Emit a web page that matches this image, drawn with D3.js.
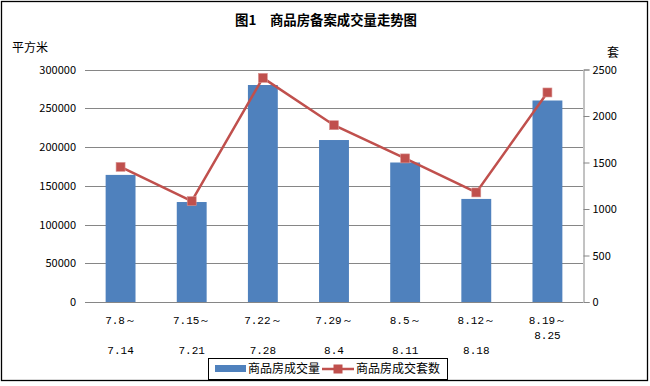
<!DOCTYPE html>
<html><head><meta charset="utf-8">
<script src="https://cdn.jsdelivr.net/npm/d3@7"></script>
<style>body{margin:0;background:#fff}svg{display:block}</style>
</head><body>
<svg id="c" width="650" height="386"></svg>
<script>
const categories = [["7.8～","","7.14"],["7.15～","","7.21"],["7.22～","","7.28"],["7.29～","","8.4"],["8.5～","","8.11"],["8.12～","","8.18"],["8.19～","8.25",""]];
const areaValues = [164000,129000,280000,209000,180000,133000,260000];
const countValues = [1453,1085,2410,1901,1544,1178,2253];
const leftTicks = [0,50000,100000,150000,200000,250000,300000];
const rightTicks = [0,500,1000,1500,2000,2500];
const titleParts = ["图1","商品房备案成交量走势图"];

const svg = d3.select("#c");
const font = "'Noto Sans CJK SC', 'Liberation Sans', sans-serif";
svg.append("rect").attr("x",1.5).attr("y",1.5).attr("width",646).attr("height",379)
  .attr("fill","#fff").attr("stroke","#000").attr("stroke-width",1.3);

const x0 = 85, x1 = 583, yTop = 69.5, yBot = 302;
const x = d3.scaleBand().domain(d3.range(categories.length)).range([x0,x1]).paddingInner(0.58).paddingOuter(0.29);
const yL = d3.scaleLinear().domain([0,300000]).range([yBot,yTop]);
const yR = d3.scaleLinear().domain([0,2500]).range([yBot,yTop]);

// gridlines
svg.append("g").selectAll("line").data(leftTicks).join("line")
  .attr("x1",x0).attr("x2",x1).attr("y1",d=>Math.round(yL(d))+0.5).attr("y2",d=>Math.round(yL(d))+0.5)
  .attr("stroke","#868686").attr("stroke-width",1);
// left labels
svg.append("g").selectAll("text").data(leftTicks).join("text")
  .attr("x",76).attr("y",d=>yL(d)+4).attr("text-anchor","end")
  .attr("font-family",font).attr("font-size",11).attr("fill","#000").text(d=>d);
// right axis
const rAxis = d3.axisRight(yR).tickValues(rightTicks).tickSize(6).tickFormat(d=>d);
const rg = svg.append("g").attr("transform",`translate(${x1+0.5},0)`).call(rAxis);
rg.selectAll("path,line").attr("stroke","#868686");
rg.selectAll("text").attr("font-family",font).attr("font-size",11).attr("fill","#000").attr("x",9);

// bars
svg.append("g").selectAll("rect").data(areaValues).join("rect")
  .attr("x",(d,i)=>x(i)).attr("width",x.bandwidth())
  .attr("y",d=>yL(d)).attr("height",d=>yBot-yL(d)).attr("fill","#4F81BD");
// baseline
svg.append("line").attr("x1",x0).attr("x2",x1).attr("y1",yBot+0.5).attr("y2",yBot+0.5).attr("stroke","#868686");

// line
const cx = i => x(i)+x.bandwidth()/2;
svg.append("path").datum(countValues)
  .attr("d",d3.line().x((d,i)=>cx(i)).y(d=>yR(d)))
  .attr("fill","none").attr("stroke","#C0504D").attr("stroke-width",2.5);
svg.append("g").selectAll("rect").data(countValues).join("rect")
  .attr("x",(d,i)=>cx(i)-4.5).attr("y",d=>yR(d)-4.5).attr("width",9).attr("height",9)
  .attr("fill","#C0504D").attr("stroke","#D99694").attr("stroke-width",0.6);

// category labels
const cg = svg.append("g");
categories.forEach((lines,i)=>{
  lines.forEach((t,j)=>{
    if(!t) return;
    cg.append("text").attr("x",cx(i)).attr("y",324+j*15).attr("text-anchor","middle")
      .attr("font-family","'Liberation Mono', monospace").attr("font-size",11).attr("fill","#000").text(t);
  });
});

// title and axis titles
svg.append("text").attr("x",235).attr("y",25).attr("font-family",font).attr("font-weight","bold").attr("font-size",13.4).text(titleParts[0]);
svg.append("text").attr("x",270).attr("y",25).attr("textLength",147).attr("font-family",font).attr("font-weight","bold").attr("font-size",13.4).text(titleParts[1]);
svg.append("text").attr("x",12).attr("y",52).attr("font-family",font).attr("font-size",12).text("平方米");
svg.append("text").attr("x",607).attr("y",57).attr("font-family",font).attr("font-size",12).text("套");

// legend
const lg = svg.append("g");
lg.append("rect").attr("x",208.5).attr("y",358.5).attr("width",239).attr("height",21).attr("fill","#fff").attr("stroke","#000");
lg.append("rect").attr("x",215).attr("y",365).attr("width",31).attr("height",7).attr("fill","#4F81BD");
lg.append("text").attr("x",248).attr("y",373).attr("font-family",font).attr("font-size",12).text("商品房成交量");
lg.append("line").attr("x1",322).attr("x2",354).attr("y1",369).attr("y2",369).attr("stroke","#C0504D").attr("stroke-width",2.5);
lg.append("rect").attr("x",333.5).attr("y",364.5).attr("width",9).attr("height",9).attr("fill","#C0504D");
lg.append("text").attr("x",356).attr("y",373).attr("font-family",font).attr("font-size",12).text("商品房成交套数");
</script>
</body></html>
